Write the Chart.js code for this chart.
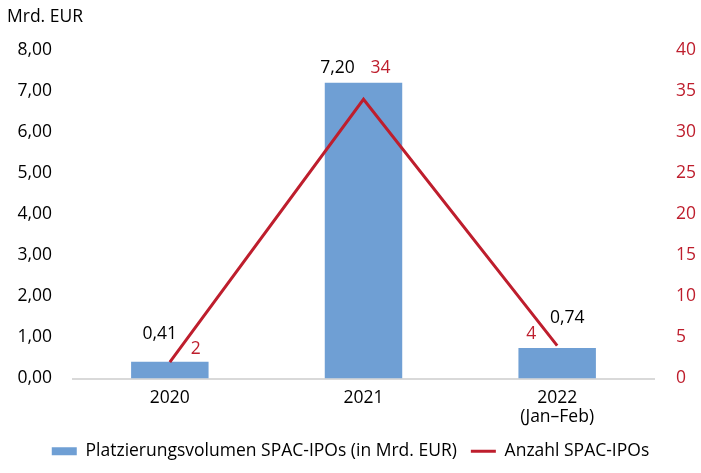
<!DOCTYPE html>
<html lang="de">
<head>
    <meta charset="UTF-8">
    <title>SPAC-IPOs</title>
    <style>
        html, body { margin: 0; padding: 0; background: #fff; }
        #wrap { width: 701px; height: 473px; }
    </style>
</head>
<body>
    <div id="wrap"><canvas id="spacChart" width="701" height="473"></canvas></div>

    <script src="https://cdn.jsdelivr.net/npm/chart.js"></script>
    <script>
        const years = ['2020', '2021', ['2022', '(Jan–Feb)']];
        const volume = [0.41, 7.20, 0.74];
        const count = [2, 34, 4];
        const leftTicks = [0, 1, 2, 3, 4, 5, 6, 7, 8];
        const rightTicks = [0, 5, 10, 15, 20, 25, 30, 35, 40];

        const blue = '#6f9fd4';
        const red = '#be1e2d';
        const fontFam = '"Open Sans", Lato, sans-serif';
        const fs = 17.5;

        const fmt = v => v.toFixed(2).replace('.', ',');

        // label offsets similar to the Excel source
        const barOff = [[-10, -28], [-26, -15], [10, -30]];
        const lineOff = [[26, -13], [17, -31], [-26, -12]];

        const labelPlugin = {
            id: 'labels',
            afterDatasetsDraw(chart) {
                const ctx = chart.ctx;
                ctx.save();
                ctx.font = fs + 'px ' + fontFam;
                ctx.textAlign = 'center';
                ctx.textBaseline = 'middle';
                chart.getDatasetMeta(0).data.forEach((el, i) => {
                    ctx.fillStyle = '#000';
                    ctx.fillText(fmt(volume[i]), el.x + barOff[i][0], el.y + barOff[i][1]);
                });
                chart.getDatasetMeta(1).data.forEach((el, i) => {
                    ctx.fillStyle = red;
                    ctx.fillText(String(count[i]), el.x + lineOff[i][0], el.y + lineOff[i][1]);
                });
                ctx.textAlign = 'left';
                ctx.fillStyle = '#000';
                ctx.fillText('Mrd. EUR', 7, 17);
                ctx.restore();
            }
        };

        const ctx = document.getElementById('spacChart').getContext('2d');
        new Chart(ctx, {
            data: {
                labels: years,
                datasets: [
                    {
                        type: 'bar',
                        label: 'Platzierungsvolumen SPAC-IPOs (in Mrd. EUR)',
                        data: volume,
                        backgroundColor: blue,
                        borderWidth: 0,
                        yAxisID: 'y',
                        order: 1,
                        pointStyle: 'rect',
                        categoryPercentage: 0.4,
                        barPercentage: 1
                    },
                    {
                        type: 'line',
                        label: 'Anzahl SPAC-IPOs',
                        data: count,
                        borderColor: red,
                        backgroundColor: red,
                        borderWidth: 3,
                        pointRadius: 0,
                        tension: 0,
                        yAxisID: 'y1',
                        order: 0,
                        pointStyle: 'line'
                    }
                ]
            },
            options: {
                responsive: false,
                animation: false,
                layout: { padding: { top: 50, left: 0, right: 0, bottom: 3 } },
                plugins: {
                    tooltip: { enabled: false },
                    legend: {
                        position: 'bottom',
                        labels: {
                            usePointStyle: true,
                            pointStyleWidth: 25,
                            boxHeight: 8,
                            padding: 14,
                            color: '#000',
                            font: { family: fontFam, size: fs },
                            sort: (a, b) => a.datasetIndex - b.datasetIndex
                        }
                    }
                },
                scales: {
                    x: {
                        grid: { display: false },
                        border: { color: '#d9d9d9', width: 2 },
                        ticks: { color: '#000', font: { family: fontFam, size: fs, lineHeight: 1.1 }, padding: 2, maxRotation: 0 },
                        afterFit: s => { s.height = 50; }
                    },
                    y: {
                        position: 'left',
                        min: 0, max: 8,
                        afterBuildTicks: s => { s.ticks = leftTicks.map(v => ({ value: v })); },
                        grid: { display: false },
                        border: { display: false },
                        ticks: { color: '#000', font: { family: fontFam, size: fs }, padding: 13, callback: v => fmt(v) },
                        afterFit: s => { s.width = 73; }
                    },
                    y1: {
                        position: 'right',
                        min: 0, max: 40,
                        afterBuildTicks: s => { s.ticks = rightTicks.map(v => ({ value: v })); },
                        grid: { display: false },
                        border: { display: false },
                        ticks: { color: red, font: { family: fontFam, size: fs }, padding: 14 },
                        afterFit: s => { s.width = 47; }
                    }
                }
            },
            plugins: [labelPlugin]
        });
    </script>
</body>
</html>
